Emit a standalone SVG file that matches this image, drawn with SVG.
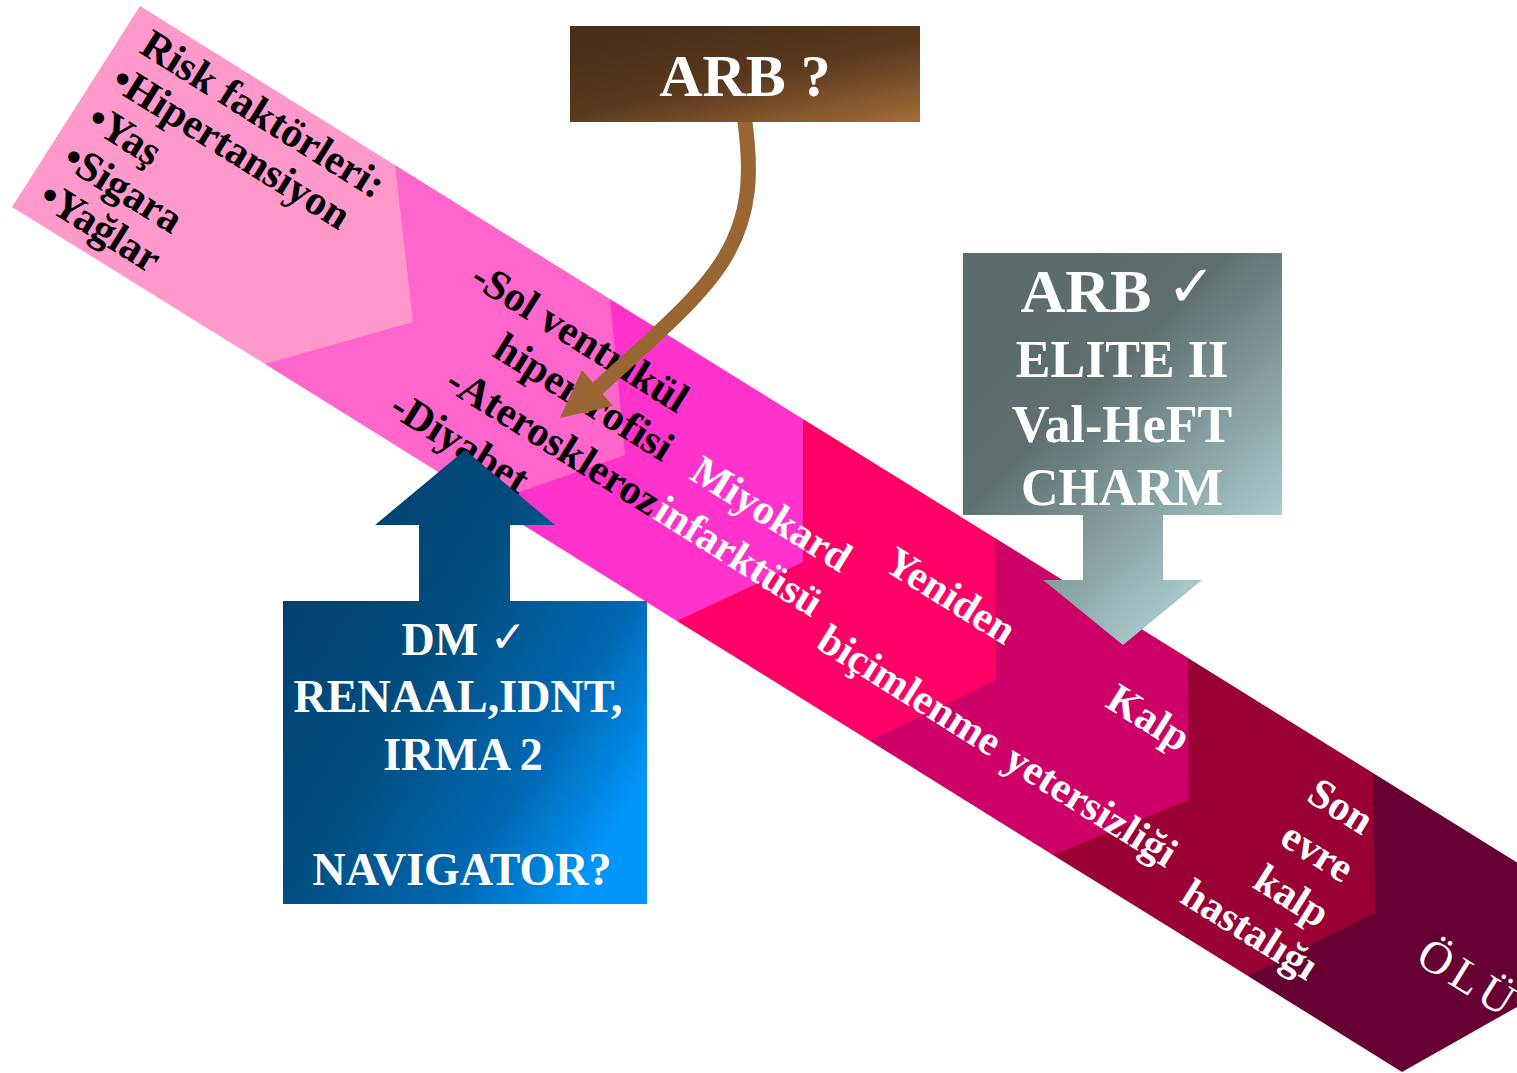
<svg xmlns="http://www.w3.org/2000/svg" width="1517" height="1073" viewBox="0 0 1517 1073">
  <defs>
    <linearGradient id="gBrown" x1="0.25" y1="0.1" x2="0.95" y2="1">
      <stop offset="0" stop-color="#4A2E18"/>
      <stop offset="0.45" stop-color="#5A3A1E"/>
      <stop offset="1" stop-color="#A06A36"/>
    </linearGradient>
    <linearGradient id="gGray" gradientUnits="userSpaceOnUse" x1="1000" y1="300" x2="1250" y2="560">
      <stop offset="0" stop-color="#5B6A6A"/>
      <stop offset="0.35" stop-color="#5F6F6F"/>
      <stop offset="1" stop-color="#ADD0D2"/>
    </linearGradient>
    <linearGradient id="gBlue" gradientUnits="userSpaceOnUse" x1="300" y1="560" x2="650" y2="770">
      <stop offset="0" stop-color="#003F70"/>
      <stop offset="0.4" stop-color="#024E80"/>
      <stop offset="0.75" stop-color="#0068B2"/>
      <stop offset="1" stop-color="#0095F8"/>
    </linearGradient>
    <style>
      .t { font-family: "Liberation Serif", "Times New Roman", serif; font-weight: bold; font-size: 42px; }
      .blk { fill: #000000; }
      .wht { fill: #FFFFFF; }
      .box { font-family: "Liberation Serif", "Times New Roman", serif; font-weight: bold; fill: #FFFFFF; text-anchor: middle; }
      .chk { font-family: "DejaVu Sans", sans-serif; font-weight: normal; }
    </style>
  </defs>

  <!-- progression band: drawn from the last stage back to the first so each chevron overlaps the next -->
  <g id="band">
    <polygon id="stage7" fill="#660033" points="1373,773 1600,914 1600,960 1402,1072 1248,976"/>
    <polygon id="stage6" fill="#990033" points="1188,658 1373,773 1375,913 1248,976 1053,855"/>
    <polygon id="stage5" fill="#CC0066" points="995,538 1188,658 1189,800 1053,855 870,741"/>
    <polygon id="stage4" fill="#FF0066" points="803,419 995,538 996,680 870,741 677,621"/>
    <polygon id="stage3" fill="#FF33CC" points="610,299 803,419 803,562 677,621 488,503"/>
    <polygon id="stage2" fill="#FF66CC" points="395,165 610,299 625,455 488,503 265,364"/>
    <polygon id="stage1" fill="#FF99CC" points="140,6 395,165 413,322 265,364 12,207"/>
  </g>

  <!-- stage labels -->
  <g id="risk-label">
    <text class="t blk" transform="translate(138,52) rotate(32)">
      <tspan x="0" y="0">Risk faktörleri:</tspan>
      <tspan x="-6" y="45">•Hipertansiyon</tspan>
      <tspan x="-6" y="91">•Yaş</tspan>
      <tspan x="-6" y="137">•Sigara</tspan>
      <tspan x="-6" y="182">•Yağlar</tspan>
    </text>
  </g>
  <g id="early-label">
    <text class="t blk" transform="translate(468.5,283.5) rotate(32)">
      <tspan x="0" y="0">-Sol ventrikül</tspan>
      <tspan x="57" y="49">hipertrofisi</tspan>
      <tspan x="34" y="102">-Ateroskleroz</tspan>
      <tspan x="0" y="153">-Diyabet</tspan>
    </text>
  </g>
  <g id="mi-label">
    <text class="t wht" transform="translate(688,478) rotate(32)">
      <tspan x="0" y="0">Miyokard</tspan>
      <tspan x="-10" y="53">infarktüsü</tspan>
    </text>
  </g>
  <g id="remodel-label">
    <text class="t wht" transform="translate(882,569) rotate(32)">
      <tspan x="0" y="0">Yeniden</tspan>
      <tspan x="-16" y="102">biçimlenme</tspan>
    </text>
  </g>
  <g id="hf-label">
    <text class="t wht" transform="translate(1104,706) rotate(32)">
      <tspan x="0" y="0">Kalp</tspan>
      <tspan x="-55" y="105">yetersizliği</tspan>
    </text>
  </g>
  <g id="esrd-label">
    <text class="t wht" transform="translate(1305,800) rotate(32)">
      <tspan x="0" y="0">Son</tspan>
      <tspan x="0" y="51">evre</tspan>
      <tspan x="0" y="102">kalp</tspan>
      <tspan x="-54" y="153">hastalığı</tspan>
    </text>
  </g>
  <g id="death-label">
    <text transform="translate(1414,962) rotate(32)" font-family="Liberation Serif, serif" font-size="46" fill="#FFFFFF" letter-spacing="5">ÖLÜM</text>
  </g>

  <!-- ARB ? box and its curved arrow -->
  <g id="connectors">
    <path d="M744,115 C752,170 752,215 722,262 C698,300 650,340 597,389" fill="none" stroke="#996633" stroke-width="15"/>
    <polygon points="560,418 582,370 613,406" fill="#996633"/>
  </g>
  <g id="arb-question">
    <rect x="570" y="26" width="350" height="96" fill="url(#gBrown)"/>
    <text class="box" x="745" y="96" font-size="60">ARB ?</text>
  </g>

  <!-- ARB trials callout pointing down to heart failure -->
  <g id="arb-trials">
    <path d="M963,253 H1282 V515 H1163 V580 H1202 L1123,645 L1043,580 H1083 V515 H963 Z" fill="url(#gGray)"/>
    <text class="box" x="1118" y="312" font-size="62">ARB <tspan class="chk" font-size="58" dy="-6">✓</tspan></text>
    <text class="box" x="1122" y="377" font-size="52">ELITE II</text>
    <text class="box" x="1122" y="442" font-size="52">Val-HeFT</text>
    <text class="box" x="1122" y="505" font-size="52">CHARM</text>
  </g>

  <!-- diabetes trials callout pointing up to the early stage -->
  <g id="dm-trials">
    <path d="M283,601 H419 V525 H375 L465,450 L555,525 H510 V601 H647 V904 H283 Z" fill="url(#gBlue)"/>
    <text class="box" x="464" y="655" font-size="46">DM <tspan class="chk" font-size="44" dy="-3">✓</tspan></text>
    <text class="box" x="458" y="712" font-size="46">RENAAL,IDNT,</text>
    <text class="box" x="463" y="770" font-size="46">IRMA 2</text>
    <text class="box" x="462" y="885" font-size="46">NAVIGATOR?</text>
  </g>
</svg>
